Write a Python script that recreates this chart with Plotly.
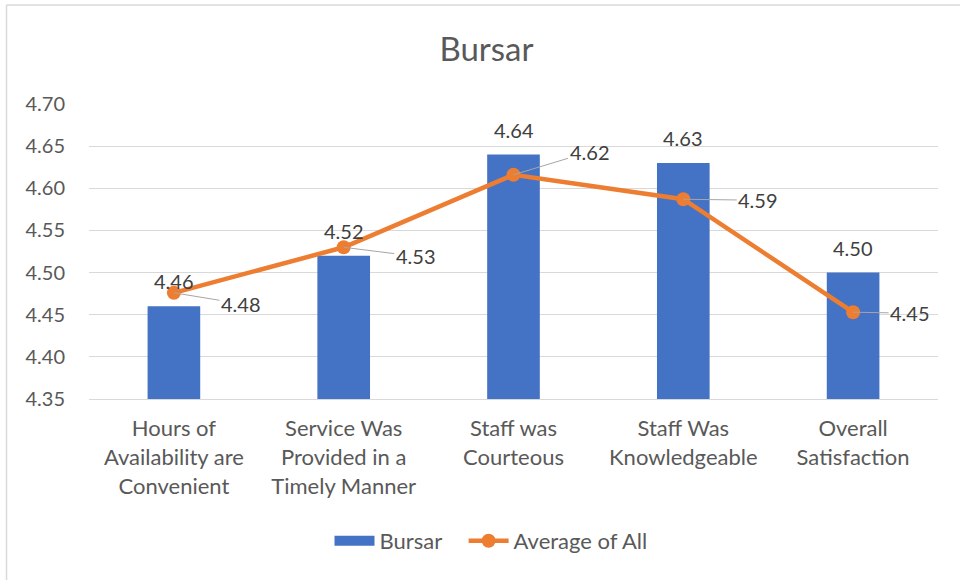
import plotly.graph_objects as go

categories = ["Hours of<br>Availability are<br>Convenient",
              "Service Was<br>Provided in a<br>Timely Manner",
              "Staff was<br>Courteous",
              "Staff Was<br>Knowledgeable",
              "Overall<br>Satisfaction"]
bursar = [4.46, 4.52, 4.64, 4.63, 4.50]
average_all = [4.476, 4.530, 4.616, 4.587, 4.453]
y_ticks = [4.35, 4.40, 4.45, 4.50, 4.55, 4.60, 4.65, 4.70]

# label offsets (px) for the line's data labels
label_dx = [67, 72, 76, 75, 57]
label_dy = [11, 9, -23, 1, 1]

FONT = "Lato"
W, H = 960, 580
ML, MR, MT, MB = 89, 22, 104, 181
PW, PH = W - ML - MR, H - MT - MB

fig = go.Figure()
fig.add_trace(go.Bar(
    x=categories, y=bursar, name="Bursar",
    marker=dict(color="#4472C4", line=dict(width=0)),
    width=0.31, showlegend=False,
))
# legend entry for the bars, drawn as a wide swatch like the original
fig.add_trace(go.Scatter(
    x=[None], y=[None], name="Bursar   ", mode="lines",
    line=dict(color="#4472C4", width=14), showlegend=True,
))
fig.add_trace(go.Scatter(
    x=categories, y=average_all, name="Average of All",
    mode="lines+markers",
    line=dict(color="#ED7D31", width=4.5),
    marker=dict(color="#ED7D31", size=14),
))

annotations = []
for c, v in zip(categories, bursar):
    annotations.append(dict(
        x=c, y=v, text=f"{v:.2f}", showarrow=False,
        yanchor="middle", yshift=25,
        font=dict(family=FONT, size=20, color="#404040"),
    ))
for c, v, dx, dy in zip(categories, average_all, label_dx, label_dy):
    annotations.append(dict(
        x=c, y=v, text=f"{v:.2f}", showarrow=True,
        ax=dx, ay=dy, arrowhead=0, arrowwidth=1, arrowcolor="#A6A6A6",
        standoff=0,
        font=dict(family=FONT, size=20, color="#404040"),
    ))

def px_to_paper_x(px):
    return (px - ML) / PW

def px_to_paper_y(py):
    return 1 - (py - MT) / PH

# chart border (left and top visible)
shapes = [
    dict(type="line", xref="paper", yref="paper",
         x0=px_to_paper_x(6.5), x1=px_to_paper_x(6.5),
         y0=px_to_paper_y(5), y1=px_to_paper_y(600),
         line=dict(color="#D9D9D9", width=1.5)),
    dict(type="line", xref="paper", yref="paper",
         x0=px_to_paper_x(6.5), x1=px_to_paper_x(1000),
         y0=px_to_paper_y(5), y1=px_to_paper_y(5),
         line=dict(color="#D9D9D9", width=1.5)),
]

fig.update_layout(
    width=W, height=H,
    margin=dict(l=ML, r=MR, t=MT, b=MB, pad=0),
    paper_bgcolor="white", plot_bgcolor="white",
    title=dict(text="Bursar", x=486.5 / W, xref="container", xanchor="center",
               y=1 - 49 / H, yanchor="middle",
               font=dict(family=FONT, size=33, color="#595959")),
    font=dict(family=FONT, size=20, color="#595959"),
    showlegend=True,
    legend=dict(orientation="h", x=px_to_paper_x(491), xanchor="center",
                y=px_to_paper_y(541), yanchor="middle",
                font=dict(family=FONT, size=22, color="#595959"),
                itemwidth=40, traceorder="normal"),
    annotations=annotations,
    shapes=shapes,
)
fig.update_yaxes(
    range=[4.35, 4.70], tickvals=y_ticks,
    ticktext=[f"{t:.2f}" for t in y_ticks],
    showgrid=True, gridcolor="#D9D9D9", gridwidth=1,
    zeroline=False, showline=False, ticks="",
    ticklabelstandoff=23,
    tickfont=dict(family=FONT, size=20, color="#595959"),
)
fig.update_xaxes(
    showgrid=False, showline=True, linecolor="#D9D9D9", linewidth=1,
    ticks="", ticklabelstandoff=10,
    tickfont=dict(family=FONT, size=22, color="#595959"),
)

fig.write_html("out.html",
               config={"displayModeBar": False},
               post_script="document.body.style.margin='0';document.body.style.padding='0';")
